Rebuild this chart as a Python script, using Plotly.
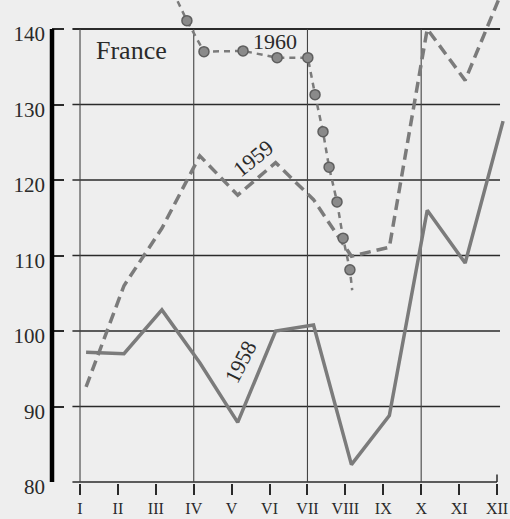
import plotly.graph_objects as go

# ---- data ----
months = list(range(1, 13))
month_labels = ["I", "II", "III", "IV", "V", "VI", "VII", "VIII", "IX", "X", "XI", "XII"]
MID = 0.16  # points plotted slightly after the month tick

v1958 = [97.2, 97.0, 102.8, 95.8, 87.9, 100.0, 100.8, 82.3, 88.8, 116.0, 109.0, 127.8]
v1959 = [92.6, 106.0, 113.6, 123.2, 118.0, 122.3, 117.4, 109.9, 111.1, 140.0, 133.2, 145.3]

x1960 = [3.45, 3.82, 4.27, 5.30, 6.20, 7.01, 7.20, 7.41, 7.57, 7.78, 7.94, 8.12, 8.18]
v1960 = [145.0, 141.1, 137.0, 137.1, 136.2, 136.2, 131.3, 126.4, 121.7, 117.1, 112.3, 108.1, 105.4]
m1960 = [False, True, True, True, True, True, True, True, True, True, True, True, False]

y_ticks = [80, 90, 100, 110, 120, 130, 140]
v_grid_months = [1, 4, 7, 10]

SERIF = "Liberation Serif, Times New Roman, serif"
LINE = "#7b7b7b"
INK = "#2a2a2a"

fig = go.Figure()

fig.add_trace(go.Scatter(
    x=[m + MID for m in months], y=v1958, mode="lines",
    line=dict(color=LINE, width=3.5), showlegend=False))
fig.add_trace(go.Scatter(
    x=[m + MID for m in months], y=v1959, mode="lines",
    line=dict(color=LINE, width=3.5, dash="11px,6px"), showlegend=False))
fig.add_trace(go.Scatter(
    x=x1960, y=v1960, mode="lines",
    line=dict(color=LINE, width=2.5, dash="6px,5px"), showlegend=False))
fig.add_trace(go.Scatter(
    x=[x for x, m in zip(x1960, m1960) if m],
    y=[y for y, m in zip(v1960, m1960) if m],
    mode="markers",
    marker=dict(size=10, color="#8a8a8a", line=dict(color="#5e5e5e", width=1.5)),
    showlegend=False))

shapes = []
# horizontal grid lines
for t in y_ticks[1:]:
    shapes.append(dict(type="line", xref="x", yref="y", x0=0.8, x1=12.08, y0=t, y1=t,
                       line=dict(color=INK, width=2 if t == 140 else 1.3), layer="below"))
# baseline
shapes.append(dict(type="line", xref="x", yref="y", x0=0.8, x1=12.0, y0=80, y1=80,
                   line=dict(color=INK, width=1.5), layer="below"))
shapes.append(dict(type="line", xref="x", yref="y", x0=12.0, x1=12.0, y0=80, y1=81,
                   line=dict(color=INK, width=1.5), layer="below"))
# vertical grid lines
for m in v_grid_months:
    shapes.append(dict(type="line", xref="x", yref="y", x0=m, x1=m, y0=80, y1=140,
                       line=dict(color="#444444", width=1.1), layer="below"))
# thick y axis
shapes.append(dict(type="line", xref="paper", yref="y", x0=0, x1=0, y0=80, y1=140,
                   line=dict(color="#000000", width=4.5)))

annotations = [
    dict(x=2.35, y=137.2, text="France", showarrow=False,
         font=dict(family=SERIF, size=26, color=INK)),
    dict(x=6.14, y=138.3, text="1960", showarrow=False,
         font=dict(family=SERIF, size=22, color=INK)),
    dict(x=5.56, y=122.9, text="1959", showarrow=False, textangle=-39,
         font=dict(family=SERIF, size=22, color=INK)),
    dict(x=5.25, y=95.9, text="1958", showarrow=False, textangle=-63,
         font=dict(family=SERIF, size=22, color=INK)),
]

fig.update_layout(
    width=510, height=519,
    margin=dict(l=52, r=0, t=0, b=36, autoexpand=False),
    paper_bgcolor="#eeeeee", plot_bgcolor="#eeeeee",
    shapes=shapes, annotations=annotations,
    xaxis=dict(range=[0.261, 12.343], showgrid=False, zeroline=False, showline=False,
               automargin=False,
               tickmode="array", tickvals=months, ticktext=month_labels,
               ticks="outside", ticklen=11, tickwidth=1.5, tickcolor=INK,
               tickfont=dict(family=SERIF, size=16, color=INK)),
    yaxis=dict(range=[79.87, 143.84], showgrid=False, zeroline=False, showline=False,
               automargin=False,
               tickmode="array", tickvals=y_ticks,
               ticks="inside", ticklen=12, tickwidth=1.5, tickcolor=INK,
               ticklabelshift=5, ticklabelstandoff=6,
               tickfont=dict(family=SERIF, size=21, color=INK)),
)

fig.write_html(
    "out.html",
    config={"displayModeBar": False},
    post_script="document.body.style.margin='0';document.body.style.padding='0';"
                "document.body.style.overflow='hidden';",
)
